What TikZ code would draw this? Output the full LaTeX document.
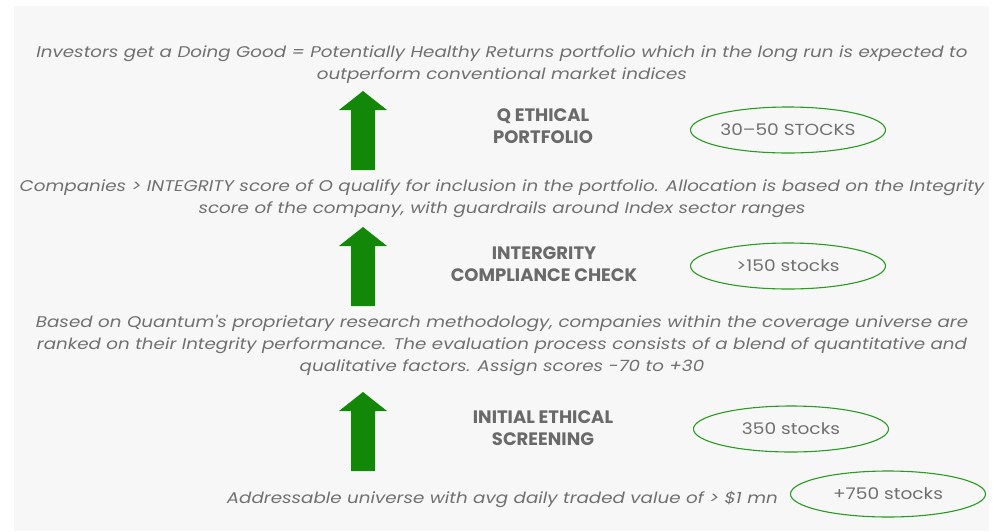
\documentclass[tikz,border=0pt]{standalone}
\usepackage{fontspec}
\setmainfont{Poppins}
\newfontfamily\bodyfont{Poppins}[FakeStretch=1.18]
\newfontfamily\ovalfont{Poppins}[FakeStretch=1.16]
\usetikzlibrary{shapes.geometric}
\definecolor{bgc}{HTML}{F7F7F7}
\definecolor{txt}{HTML}{707070}
\definecolor{lbl}{HTML}{6A6A6A}
\definecolor{arr}{HTML}{138808}
\definecolor{ell}{HTML}{2A9A22}
\tikzset{
  body/.style={text=txt, font=\bodyfont\fontsize{15.5}{22}\selectfont\itshape, align=center, inner sep=0pt},
  lab/.style={text=lbl, font=\fontsize{18}{22}\selectfont\bfseries, align=center, inner sep=0pt},
  oval/.style={ellipse, draw=ell, line width=1.1pt, minimum width=195pt, minimum height=46pt, text=txt, font=\ovalfont\fontsize{16}{20}\selectfont, inner sep=0pt},
  uparrow/.style={fill=arr, draw=none}
}
\newcommand\greenup[4]{% name, x, ytip, ybottom
  \coordinate (#1) at (#2,#3);
  \fill[uparrow] (#1) -- ++(24,19) -- ++(-12,0) |- (#2-12,#4) -- (#2-12,#3+19) -- ++(-12,0) -- cycle;
}
\begin{document}
\begin{tikzpicture}[x=1pt,y=-1pt]
\useasboundingbox (0,0) rectangle (1004,531);
\fill[bgc] (14,6) rectangle (989,531);

\node[body] (t1) at (502,65) {Investors get a Doing Good = Potentially Healthy Returns portfolio which in the long run is expected to\\outperform conventional market indices};
\node[body] (t2) at (502,199) {Companies > INTEGRITY score of O qualify for inclusion in the portfolio. Allocation is based on the Integrity\\score of the company, with guardrails around Index sector ranges};
\node[body] (t3) at (502,345) {Based on Quantum\char39 s proprietary research methodology, companies within the coverage universe are\\ranked on their Integrity performance. The evaluation process consists of a blend of quantitative and\\qualitative factors. Assign scores -70 to +30};
\node[body, anchor=east] (t4) at (778,499) {Addressable universe with avg daily traded value of > \$1 mn};

\greenup{a1}{363}{91}{170}
\greenup{a2}{363}{227}{306}
\greenup{a3}{363}{392}{471}

\node[lab] (l1) at (543,126) {Q ETHICAL\\PORTFOLIO};
\node[lab] (l2) at (544,264) {INTERGRITY\\COMPLIANCE CHECK};
\node[lab] (l3) at (543,428) {INITIAL ETHICAL\\SCREENING};

\node[oval] (e1) at (788,130) {30–50 STOCKS};
\node[oval] (e2) at (788,266) {>150 stocks};
\node[oval] (e3) at (791,429) {350 stocks};
\node[oval] (e4) at (888,494) {+750 stocks};
\end{tikzpicture}
\end{document}
